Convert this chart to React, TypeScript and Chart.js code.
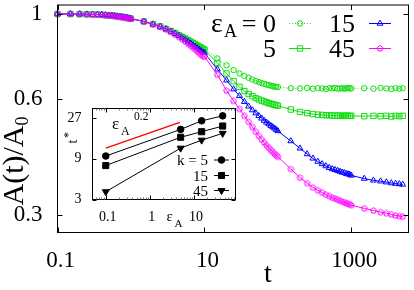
import React, { useEffect, useRef } from 'react';
import { Chart, registerables } from 'chart.js';
Chart.register(...registerables);

// ---------------- main plot data ----------------
const T = [
  0.1, 0.15, 0.2, 0.25, 0.3, 0.35, 0.4, 0.45, 0.5, 0.55, 0.6, 0.65, 0.7, 0.75, 0.8, 0.85, 0.9, 0.95,
  1, 1.5, 2, 2.5, 3, 3.5, 4, 4.5, 5, 5.5, 6, 6.5, 7, 7.5, 8, 8.5, 9, 9.5,
  10, 15, 20, 25, 30, 35, 40, 45, 50, 55, 60, 65, 70, 75, 80, 85, 90, 95,
  100, 150, 200, 250, 300, 350, 400, 450, 500, 550, 600, 650, 700, 750, 800, 850, 900, 950,
  1000, 1500, 2000, 2500, 3000, 3500, 4000, 4500, 5000,
];

const A_EPS0 = [
  1.000, 1.000, 0.999, 0.998, 0.997, 0.996, 0.995, 0.993, 0.991, 0.990, 0.988, 0.986, 0.984, 0.982, 0.980, 0.978, 0.976, 0.974,
  0.972, 0.956, 0.941, 0.928, 0.915, 0.903, 0.892, 0.882, 0.873, 0.865, 0.857, 0.850, 0.843, 0.837, 0.831, 0.826, 0.821, 0.816,
  0.812, 0.766, 0.735, 0.714, 0.700, 0.690, 0.682, 0.675, 0.669, 0.665, 0.661, 0.658, 0.655, 0.653, 0.651, 0.649, 0.647, 0.646,
  0.645, 0.641, 0.640, 0.642, 0.639, 0.641, 0.640, 0.638, 0.641, 0.640, 0.642, 0.639, 0.640, 0.641, 0.639, 0.640, 0.642, 0.640,
  0.640, 0.641, 0.639, 0.642, 0.640, 0.638, 0.641, 0.639, 0.641,
];

const A_EPS5 = [
  1.000, 1.000, 0.999, 0.998, 0.997, 0.996, 0.995, 0.993, 0.991, 0.990, 0.988, 0.986, 0.984, 0.982, 0.980, 0.978, 0.976, 0.974,
  0.972, 0.956, 0.941, 0.928, 0.915, 0.903, 0.892, 0.881, 0.871, 0.862, 0.854, 0.846, 0.839, 0.832, 0.825, 0.819, 0.813, 0.808,
  0.806, 0.745, 0.700, 0.668, 0.646, 0.630, 0.619, 0.611, 0.604, 0.599, 0.595, 0.592, 0.589, 0.586, 0.584, 0.582, 0.580, 0.579,
  0.577, 0.564, 0.556, 0.552, 0.549, 0.547, 0.546, 0.545, 0.545, 0.544, 0.544, 0.543, 0.544, 0.543, 0.543, 0.544, 0.543, 0.543,
  0.543, 0.542, 0.543, 0.542, 0.543, 0.541, 0.543, 0.542, 0.543,
];

const A_EPS15 = [
  1.000, 1.000, 0.999, 0.998, 0.997, 0.996, 0.995, 0.993, 0.991, 0.990, 0.988, 0.986, 0.984, 0.982, 0.980, 0.978, 0.976, 0.974,
  0.972, 0.956, 0.940, 0.927, 0.913, 0.900, 0.888, 0.877, 0.866, 0.856, 0.847, 0.838, 0.830, 0.822, 0.815, 0.808, 0.801, 0.795,
  0.792, 0.718, 0.672, 0.637, 0.612, 0.591, 0.575, 0.562, 0.552, 0.543, 0.535, 0.528, 0.522, 0.517, 0.512, 0.508, 0.504, 0.500,
  0.496, 0.467, 0.447, 0.432, 0.421, 0.413, 0.407, 0.402, 0.398, 0.395, 0.393, 0.391, 0.389, 0.387, 0.386, 0.384, 0.383, 0.382,
  0.380, 0.373, 0.369, 0.367, 0.365, 0.363, 0.362, 0.361, 0.360,
];

const A_EPS45 = [
  1.000, 1.000, 0.999, 0.998, 0.997, 0.996, 0.995, 0.993, 0.991, 0.990, 0.988, 0.986, 0.984, 0.982, 0.980, 0.978, 0.976, 0.974,
  0.972, 0.955, 0.939, 0.925, 0.911, 0.897, 0.884, 0.871, 0.859, 0.848, 0.837, 0.827, 0.818, 0.809, 0.800, 0.792, 0.784, 0.777,
  0.775, 0.695, 0.632, 0.594, 0.566, 0.543, 0.524, 0.508, 0.494, 0.482, 0.472, 0.463, 0.456, 0.449, 0.443, 0.438, 0.433, 0.429,
  0.425, 0.395, 0.375, 0.363, 0.354, 0.348, 0.343, 0.339, 0.336, 0.333, 0.331, 0.329, 0.327, 0.325, 0.324, 0.322, 0.321, 0.320,
  0.318, 0.312, 0.308, 0.305, 0.303, 0.301, 0.299, 0.298, 0.297,
];

const X_TICKS = [0.1, 10, 1000];
const X_TICK_LABELS = ['0.1', '10', '1000'];
const Y_TICKS = [0.3, 0.6, 1];
const Y_TICK_LABELS = ['0.3', '0.6', '1'];
const LEGEND_EPS = ['0', '5', '15', '45'];

// ---------------- inset data ----------------
const INSET_EPS = [0.1, 5, 15, 45];
const TSTAR_K5 = [9.7, 19.9, 25.1, 28.7];
const TSTAR_K15 = [7.5, 16.1, 18.7, 21.8];
const TSTAR_K45 = [3.7, 12.0, 14.9, 17.9];
const GUIDE_EPS = [0.1, 4.8];
const GUIDE_TSTAR = [12, 24];
const INSET_X_TICKS = [0.1, 1, 10];
const INSET_X_LABELS = ['0.1', '1', '10'];
const INSET_X_MINOR = [0.06, 0.07, 0.08, 0.09, 0.2, 0.3, 0.4, 0.5, 0.6, 0.7, 0.8, 0.9, 2, 3, 4, 5, 6, 7, 8, 9, 20, 30, 40, 50, 60, 70, 80];
const INSET_Y_TICKS = [3, 9, 27];
const INSET_Y_LABELS = ['3', '9', '27'];
const K_LABELS = ['k = 5', '15', '45'];

const FONT = "'Liberation Serif', 'Times New Roman', serif";
const GREEN = '#11dd11';
const BLUE = '#0000ff';
const MAGENTA = '#ff00ff';

function pts(xs: number[], ys: number[]) {
  return xs.map((x, i) => ({ x, y: ys[i] }));
}

function pentagonPath(ctx: CanvasRenderingContext2D, cx: number, cy: number, r: number) {
  ctx.beginPath();
  for (let i = 0; i < 5; i++) {
    const a = -Math.PI / 2 + (i * 2 * Math.PI) / 5;
    const px = cx + r * Math.cos(a);
    const py = cy + r * Math.sin(a);
    if (i) ctx.lineTo(px, py);
    else ctx.moveTo(px, py);
  }
  ctx.closePath();
}

function makePentagon(color: string, r: number) {
  const c = document.createElement('canvas');
  c.width = 9;
  c.height = 9;
  const g = c.getContext('2d')!;
  g.strokeStyle = color;
  g.lineWidth = 1;
  pentagonPath(g, 4.5, 4.6, r);
  g.stroke();
  return c;
}

function drawMarker(ctx: CanvasRenderingContext2D, kind: string, x: number, y: number, color: string, filled: boolean, r: number) {
  ctx.save();
  ctx.strokeStyle = color;
  ctx.fillStyle = color;
  ctx.lineWidth = 1;
  ctx.setLineDash([]);
  ctx.beginPath();
  if (kind === 'circle') {
    ctx.arc(x, y, r, 0, Math.PI * 2);
  } else if (kind === 'rect') {
    const h = r * Math.SQRT1_2;
    ctx.rect(x - h, y - h, 2 * h, 2 * h);
  } else if (kind === 'triangle' || kind === 'triangleDown') {
    const s = kind === 'triangle' ? 1 : -1;
    for (let i = 0; i < 3; i++) {
      const a = (i * 2 * Math.PI) / 3;
      const px = x + Math.sin(a) * r;
      const py = y - s * Math.cos(a) * r;
      if (i) ctx.lineTo(px, py);
      else ctx.moveTo(px, py);
    }
    ctx.closePath();
  } else if (kind === 'pentagon') {
    pentagonPath(ctx, x, y, r);
  }
  if (filled) ctx.fill();
  ctx.stroke();
  ctx.restore();
}

function text(ctx: CanvasRenderingContext2D, s: string, x: number, y: number, size: number, align: CanvasTextAlign = 'left', baseline: CanvasTextBaseline = 'alphabetic') {
  ctx.font = `${size}px ${FONT}`;
  ctx.textAlign = align;
  ctx.textBaseline = baseline;
  ctx.fillStyle = '#000';
  ctx.fillText(s, x, y);
}

function line(ctx: CanvasRenderingContext2D, x1: number, y1: number, x2: number, y2: number) {
  ctx.beginPath();
  ctx.moveTo(x1, y1);
  ctx.lineTo(x2, y2);
  ctx.stroke();
}

function noPad(s: any) {
  s.paddingTop = 0;
  s.paddingBottom = 0;
  s.paddingLeft = 0;
  s.paddingRight = 0;
}

const mainDecor = {
  id: 'mainDecor',
  afterDraw(chart: any) {
    const { ctx, chartArea: a, scales } = chart;
    const sx = scales.x;
    const sy = scales.y;
    ctx.save();
    ctx.strokeStyle = '#000';
    ctx.lineWidth = 1;
    ctx.strokeRect(a.left, a.top, a.right - a.left, a.bottom - a.top);
    X_TICKS.forEach((v) => {
      const p = Math.round(sx.getPixelForValue(v)) + 0.5;
      line(ctx, p, a.bottom, p, a.bottom - 5);
      line(ctx, p, a.top, p, a.top + 5);
    });
    Y_TICKS.forEach((v) => {
      const p = Math.round(sy.getPixelForValue(v)) + 0.5;
      line(ctx, a.left, p, a.left + 5, p);
      line(ctx, a.right, p, a.right - 5, p);
    });

    // axis titles
    text(ctx, 't', 268, 282, 28, 'center');
    ctx.save();
    ctx.translate(23, 161);
    ctx.rotate(-Math.PI / 2);
    ctx.font = `30px ${FONT}`;
    const w1 = ctx.measureText('A(t)/A').width;
    ctx.font = `18px ${FONT}`;
    const w2 = ctx.measureText('0').width;
    const start = -(w1 + w2) / 2;
    text(ctx, 'A(t)/A', start, 0, 30, 'left');
    text(ctx, '0', start + w1, 5, 18, 'left');
    ctx.restore();

    // legend
    text(ctx, 'ε', 211, 32, 28, 'left');
    text(ctx, 'A', 224, 37, 18, 'left');
    text(ctx, '= ' + LEGEND_EPS[0], 276, 32, 26, 'right');
    text(ctx, LEGEND_EPS[1], 276, 57, 26, 'right');
    text(ctx, LEGEND_EPS[2], 355, 32, 26, 'right');
    text(ctx, LEGEND_EPS[3], 355, 57, 26, 'right');

    const r1 = 23.5;
    const r2 = 48.5;
    ctx.lineWidth = 1;
    ctx.strokeStyle = GREEN;
    ctx.setLineDash([1, 2]);
    line(ctx, 289, r1, 311, r1);
    ctx.setLineDash([]);
    drawMarker(ctx, 'circle', 300, r1, GREEN, false, 2.7);
    ctx.strokeStyle = GREEN;
    line(ctx, 289, r2, 311, r2);
    drawMarker(ctx, 'rect', 300, r2, GREEN, false, 3.8);
    ctx.strokeStyle = BLUE;
    line(ctx, 369, r1, 391, r1);
    drawMarker(ctx, 'triangle', 380, r1, BLUE, false, 3.4);
    ctx.strokeStyle = MAGENTA;
    line(ctx, 369, r2, 391, r2);
    drawMarker(ctx, 'pentagon', 380, r2, MAGENTA, false, 3);
    ctx.restore();
  },
};

const OX = 50;
const OY = 100;

const insetDecor = {
  id: 'insetDecor',
  beforeDraw(chart: any) {
    const { ctx, chartArea: a } = chart;
    ctx.save();
    ctx.fillStyle = '#fff';
    ctx.fillRect(a.left, a.top, a.right - a.left, a.bottom - a.top);
    ctx.restore();
  },
  afterDraw(chart: any) {
    const { ctx, chartArea: a, scales } = chart;
    const sx = scales.x;
    const sy = scales.y;
    ctx.save();
    ctx.strokeStyle = '#000';
    ctx.lineWidth = 1;
    ctx.strokeRect(a.left, a.top, a.right - a.left, a.bottom - a.top);
    INSET_X_TICKS.forEach((v) => {
      const p = Math.round(sx.getPixelForValue(v)) + 0.5;
      line(ctx, p, a.bottom, p, a.bottom - 4);
      line(ctx, p, a.top, p, a.top + 4);
    });
    ctx.strokeStyle = '#777';
    INSET_X_MINOR.forEach((v) => {
      const p = Math.round(sx.getPixelForValue(v)) + 0.5;
      line(ctx, p, a.bottom, p, a.bottom - 2);
      line(ctx, p, a.top, p, a.top + 2);
    });
    ctx.strokeStyle = '#000';
    INSET_Y_TICKS.forEach((v) => {
      const p = Math.round(sy.getPixelForValue(v)) + 0.5;
      line(ctx, a.left, p, a.left + 4, p);
      line(ctx, a.right, p, a.right - 4, p);
    });

    ctx.translate(-OX, -OY);
    // guide label eps_A^0.2
    text(ctx, 'ε', 112, 128.5, 17, 'left');
    text(ctx, 'A', 121, 134.5, 12, 'left');
    text(ctx, '0.2', 134, 120, 11.5, 'left');
    // x label
    text(ctx, 'ε', 166.5, 220.5, 15, 'left');
    text(ctx, 'A', 174.5, 227, 11, 'left');
    // y label t*
    ctx.save();
    ctx.translate(77, 141.5);
    ctx.rotate(-Math.PI / 2);
    text(ctx, 't', 0, 0, 14, 'center');
    text(ctx, '*', 6.5, -5, 12, 'center');
    ctx.restore();
    // legend
    const ys = [160, 175.5, 190.5];
    const kinds = ['circle', 'rect', 'triangleDown'];
    const rs = [3.3, 4.3, 4];
    K_LABELS.forEach((s, i) => {
      text(ctx, s, 208, ys[i] + 5, 15, 'right');
      ctx.strokeStyle = '#000';
      line(ctx, 214, ys[i], 229, ys[i]);
      drawMarker(ctx, kinds[i], 221.5, ys[i], '#000', true, rs[i]);
    });
    ctx.restore();
  },
};

export default function App() {
  const mainRef = useRef<HTMLCanvasElement>(null);
  const insetRef = useRef<HTMLCanvasElement>(null);

  useEffect(() => {
    const pent = makePentagon(MAGENTA, 3);
    const common = {
      showLine: true,
      borderWidth: 1,
      pointBorderWidth: 1,
      pointBackgroundColor: 'rgba(0,0,0,0)',
      clip: false,
    };
    const main = new Chart(mainRef.current!, {
      type: 'scatter',
      data: {
        datasets: [
          { ...common, label: 'ε_A = 0', data: pts(T, A_EPS0), borderColor: GREEN, pointBorderColor: GREEN, borderDash: [1, 2], pointStyle: 'circle', pointRadius: 2.7, order: 3 },
          { ...common, label: 'ε_A = 5', data: pts(T, A_EPS5), borderColor: GREEN, pointBorderColor: GREEN, pointStyle: 'rect', pointRadius: 3.8, order: 2 },
          { ...common, label: 'ε_A = 15', data: pts(T, A_EPS15), borderColor: BLUE, pointBorderColor: BLUE, pointStyle: 'triangle', pointRadius: 3.4, order: 1 },
          { ...common, label: 'ε_A = 45', data: pts(T, A_EPS45), borderColor: MAGENTA, pointBorderColor: MAGENTA, pointStyle: pent, pointRadius: 3, order: 0 },
        ] as any,
      },
      options: {
        responsive: false,
        animation: false,
        devicePixelRatio: 1,
        events: [],
        layout: { padding: { top: 3.5, right: 5.5, left: 0, bottom: 0 } },
        plugins: { legend: { display: false }, tooltip: { enabled: false } },
        scales: {
          x: {
            type: 'logarithmic',
            min: 0.1,
            max: 6000,
            position: 'bottom',
            grid: { display: false, drawTicks: false },
            border: { display: false },
            ticks: {
              autoSkip: false,
              maxRotation: 0,
              color: '#000',
              font: { family: FONT, size: 23 },
              padding: 15,
              labelOffset: 3,
              callback: (v: any) => {
                const i = X_TICKS.indexOf(Number(v));
                return i >= 0 ? X_TICK_LABELS[i] : '';
              },
            },
            afterBuildTicks: (s: any) => {
              s.ticks = X_TICKS.map((v) => ({ value: v }));
            },
            afterFit: (s: any) => {
              s.height = 57.5;
              noPad(s);
            },
          },
          y: {
            type: 'logarithmic',
            min: 0.27,
            max: 1.055,
            position: 'left',
            grid: { display: false, drawTicks: false },
            border: { display: false },
            ticks: {
              autoSkip: false,
              color: '#000',
              font: { family: FONT, size: 23 },
              padding: 15,
              callback: (v: any) => {
                const i = Y_TICKS.indexOf(Number(v));
                return i >= 0 ? Y_TICK_LABELS[i] : '';
              },
            },
            afterBuildTicks: (s: any) => {
              s.ticks = Y_TICKS.map((v) => ({ value: v }));
            },
            afterFit: (s: any) => {
              s.width = 57.5;
              noPad(s);
            },
          },
        },
      } as any,
      plugins: [mainDecor],
    });

    const blk = { showLine: true, borderWidth: 1, borderColor: '#000', pointBackgroundColor: '#000', pointBorderColor: '#000', pointBorderWidth: 1, clip: false };
    const inset = new Chart(insetRef.current!, {
      type: 'scatter',
      data: {
        datasets: [
          { ...blk, label: 'k = 5', data: pts(INSET_EPS, TSTAR_K5), pointStyle: 'circle', pointRadius: 3.3 },
          { ...blk, label: 'k = 15', data: pts(INSET_EPS, TSTAR_K15), pointStyle: 'rect', pointRadius: 4.3 },
          { ...blk, label: 'k = 45', data: pts(INSET_EPS, TSTAR_K45), pointStyle: 'triangle', pointRotation: 180, pointRadius: 4 },
          { label: 'ε_A^0.2', data: pts(GUIDE_EPS, GUIDE_TSTAR), showLine: true, borderColor: '#ff0000', borderWidth: 1.3, pointRadius: 0, clip: false },
        ] as any,
      },
      options: {
        responsive: false,
        animation: false,
        devicePixelRatio: 1,
        events: [],
        layout: { padding: { top: 8.5, right: 14.5, left: 0, bottom: 0 } },
        plugins: { legend: { display: false }, tooltip: { enabled: false } },
        scales: {
          x: {
            type: 'logarithmic',
            min: 0.05,
            max: 88,
            position: 'bottom',
            grid: { display: false, drawTicks: false },
            border: { display: false },
            ticks: {
              autoSkip: false,
              maxRotation: 0,
              color: '#000',
              font: { family: FONT, size: 14 },
              padding: 9,
              labelOffset: 2,
              callback: (v: any) => {
                const i = INSET_X_TICKS.indexOf(Number(v));
                return i >= 0 ? INSET_X_LABELS[i] : '';
              },
            },
            afterBuildTicks: (s: any) => {
              s.ticks = INSET_X_TICKS.map((v) => ({ value: v }));
            },
            afterFit: (s: any) => {
              s.height = 30.5;
              noPad(s);
            },
          },
          y: {
            type: 'logarithmic',
            min: 3,
            max: 35,
            position: 'left',
            grid: { display: false, drawTicks: false },
            border: { display: false },
            ticks: {
              autoSkip: false,
              color: '#000',
              font: { family: FONT, size: 14 },
              padding: 11,
              callback: (v: any) => {
                const i = INSET_Y_TICKS.indexOf(Number(v));
                return i >= 0 ? INSET_Y_LABELS[i] : '';
              },
            },
            afterBuildTicks: (s: any) => {
              s.ticks = INSET_Y_TICKS.map((v) => ({ value: v }));
            },
            afterFit: (s: any) => {
              s.width = 42.5;
              noPad(s);
            },
          },
        },
      } as any,
      plugins: [insetDecor],
    });

    return () => {
      main.destroy();
      inset.destroy();
    };
  }, []);

  return (
    <div style={{ position: 'fixed', left: 0, top: 0, width: 414, height: 290, background: '#fff', overflow: 'hidden' }}>
      <canvas ref={mainRef} width={414} height={290} style={{ position: 'absolute', left: 0, top: 0, width: 414, height: 290 }} />
      <canvas ref={insetRef} width={200} height={130} style={{ position: 'absolute', left: OX, top: OY, width: 200, height: 130 }} />
    </div>
  );
}
